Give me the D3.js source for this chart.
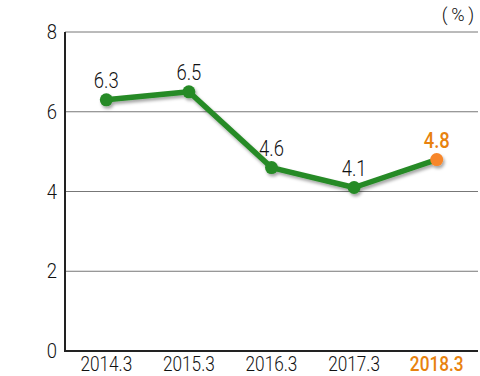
<!DOCTYPE html>
<html>
<head>
<meta charset="utf-8">
<script src="https://cdn.jsdelivr.net/npm/d3@7"></script>
<style>
  body { margin: 0; background: #fff; }
  text { font-family: Roboto, "DejaVu Sans Condensed", sans-serif; font-weight: 300; }
</style>
</head>
<body>
<div id="chart"></div>
<script>
// data
var years = ["2014.3", "2015.3", "2016.3", "2017.3", "2018.3"];
var values = [6.3, 6.5, 4.6, 4.1, 4.8];
var yTicks = [0, 2, 4, 6, 8];

var width = 480, height = 376;
var margin = {top: 32, right: 2, bottom: 25, left: 65};
var green = "#268a26", orange = "#e8820e";

var svg = d3.select("#chart")
    .append("svg")
    .attr("width", width)
    .attr("height", height);

var f = svg.append("defs").append("filter").attr("id", "shadow")
    .attr("x", "-20%").attr("y", "-20%").attr("width", "140%").attr("height", "160%");
f.append("feDropShadow")
    .attr("dx", 1.5).attr("dy", 2.5).attr("stdDeviation", 1.5)
    .attr("flood-color", "#000").attr("flood-opacity", 0.35);

var x = d3.scalePoint()
    .domain(years)
    .range([margin.left, width - margin.right])
    .padding(0.5);

var y = d3.scaleLinear()
    .domain([0, 8])
    .range([height - margin.bottom, margin.top]);

// narrow text: the original uses a condensed face
function place(sel, fx, fy, sx) {
    sel.attr("transform", (d, i) => "translate(" + fx(d, i) + "," + fy(d, i) + ") scale(" + sx + ",1)");
}

// grid lines
svg.append("g")
    .selectAll("line")
    .data(yTicks.filter(d => d > 0))
    .enter()
    .append("line")
    .attr("x1", margin.left)
    .attr("x2", width - margin.right)
    .attr("y1", d => y(d))
    .attr("y2", d => y(d))
    .attr("stroke", "#777")
    .attr("stroke-width", 1);

// y tick labels
svg.append("g")
    .selectAll("text")
    .data(yTicks)
    .enter()
    .append("text")
    .attr("text-anchor", "end")
    .attr("font-size", 21)
    .attr("fill", "#111")
    .text(d => d)
    .call(place, d => margin.left - 8, d => y(d) + 7, 0.88);

// axes
svg.append("line")
    .attr("x1", margin.left).attr("x2", margin.left)
    .attr("y1", y(8)).attr("y2", y(0))
    .attr("stroke", "#222").attr("stroke-width", 2);
svg.append("line")
    .attr("x1", margin.left - 1).attr("x2", width - margin.right)
    .attr("y1", y(0)).attr("y2", y(0))
    .attr("stroke", "#222").attr("stroke-width", 2);

// x labels
svg.append("g")
    .selectAll("text")
    .data(years)
    .enter()
    .append("text")
    .attr("text-anchor", "middle")
    .attr("font-size", 21)
    .style("font-weight", (d, i) => i === years.length - 1 ? 500 : 300)
    .attr("fill", (d, i) => i === years.length - 1 ? orange : "#111")
    .text(d => d)
    .call(place, d => x(d), d => y(0) + 20, 0.82);

// unit
svg.append("text")
    .attr("text-anchor", "end")
    .attr("font-size", 19)
    .attr("fill", "#111")
    .attr("letter-spacing", 4)
    .text("(%)")
    .call(place, d => width - 2, d => 21, 0.95);

var pts = years.map((d, i) => ({year: d, value: values[i]}));

var line = d3.line()
    .x(d => x(d.year))
    .y(d => y(d.value));

var g = svg.append("g").attr("filter", "url(#shadow)");

g.append("path")
    .datum(pts)
    .attr("d", line)
    .attr("fill", "none")
    .attr("stroke", green)
    .attr("stroke-width", 5.5)
    .attr("stroke-linejoin", "round");

g.selectAll("circle")
    .data(pts)
    .enter()
    .append("circle")
    .attr("cx", d => x(d.year))
    .attr("cy", d => y(d.value))
    .attr("r", 6.5)
    .attr("fill", (d, i) => i === pts.length - 1 ? "#f7862a" : green);

// value labels
svg.append("g")
    .selectAll("text")
    .data(pts)
    .enter()
    .append("text")
    .attr("text-anchor", "middle")
    .attr("font-size", 22)
    .style("font-weight", (d, i) => i === pts.length - 1 ? 500 : 300)
    .attr("fill", (d, i) => i === pts.length - 1 ? orange : "#111")
    .text(d => d.value.toFixed(1))
    .call(place, d => x(d.year), d => y(d.value) - 12, 0.84);
</script>
</body>
</html>
